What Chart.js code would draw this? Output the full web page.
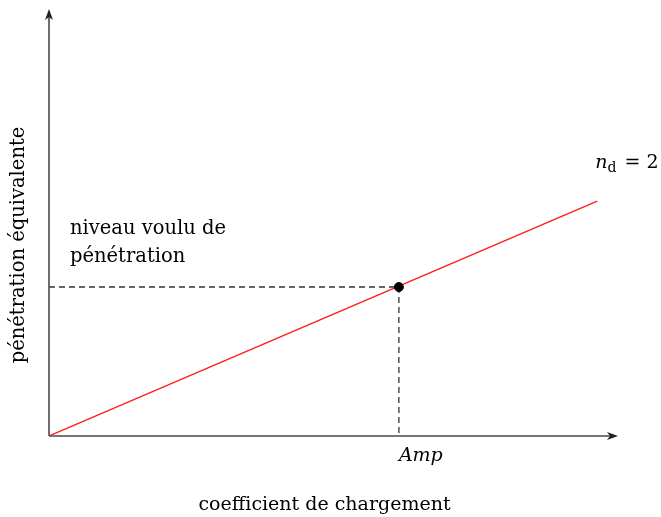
<!DOCTYPE html>
<html>
<head>
<meta charset="utf-8">
<script src="https://cdn.jsdelivr.net/npm/chart.js@4"></script>
<style>
  html, body { margin: 0; padding: 0; background: #fff; }
  #wrap { width: 661px; height: 517px; }
</style>
</head>
<body>
<div id="wrap"><canvas id="chart" width="661" height="517"></canvas></div>
<script>
"use strict";

// ===== Data =====
const lineX = [0, 9.95];          // n_d = 2 curve, start / end
const lineY = [0, 6.15];
const targetX = [6.35];           // operating point (Amp)
const targetY = [3.9];
const xTickLabels = ['Amp'];
const xTitle = 'coefficient de chargement';
const yTitle = 'pénétration équivalente';
const curveLabel = ['n', 'd', ' = 2'];
const levelLabel = ['niveau voulu de', 'pénétration'];

const SERIF = '"DejaVu Serif", serif';
const AXIS_COLOR = '#4a4a4a';

// axes with arrow heads, dashed guides and the text notes
const decorations = {
    id: 'decorations',
    beforeDatasetsDraw(chart) {
        const { ctx, scales: { x, y } } = chart;
        const x0 = x.getPixelForValue(0);
        const y0 = y.getPixelForValue(0);
        const px = x.getPixelForValue(targetX[0]);
        const py = y.getPixelForValue(targetY[0]);

        ctx.save();
        // dashed guides
        ctx.strokeStyle = '#333';
        ctx.lineWidth = 1.3;
        ctx.setLineDash([6, 4]);
        ctx.beginPath();
        ctx.moveTo(x0, py);
        ctx.lineTo(px, py);
        ctx.moveTo(px, py);
        ctx.lineTo(px, y0);
        ctx.stroke();
        ctx.setLineDash([]);

        // axes
        const xEnd = x.right + 18;
        const yEnd = y.top - 45;
        ctx.strokeStyle = AXIS_COLOR;
        ctx.lineWidth = 1.6;
        ctx.beginPath();
        ctx.moveTo(x0, y0);
        ctx.lineTo(xEnd - 6, y0);
        ctx.moveTo(x0, y0);
        ctx.lineTo(x0, yEnd + 6);
        ctx.stroke();
        ctx.fillStyle = '#222';
        ctx.beginPath();
        ctx.moveTo(xEnd, y0);
        ctx.lineTo(xEnd - 11, y0 - 4);
        ctx.lineTo(xEnd - 8, y0);
        ctx.lineTo(xEnd - 11, y0 + 4);
        ctx.closePath();
        ctx.fill();
        ctx.beginPath();
        ctx.moveTo(x0, yEnd);
        ctx.lineTo(x0 - 4, yEnd + 11);
        ctx.lineTo(x0, yEnd + 8);
        ctx.lineTo(x0 + 4, yEnd + 11);
        ctx.closePath();
        ctx.fill();

        // notes
        ctx.fillStyle = '#000';
        ctx.textBaseline = 'alphabetic';
        ctx.textAlign = 'left';
        ctx.font = '19.5px ' + SERIF;
        ctx.fillText(levelLabel[0], x0 + 21, py - 53);
        ctx.fillText(levelLabel[1], x0 + 21, py - 25);

        const ex = x.getPixelForValue(lineX[1]) - 2;
        const ey = y.getPixelForValue(lineY[1]) - 33;
        ctx.font = 'italic 19px ' + SERIF;
        ctx.fillText(curveLabel[0], ex, ey);
        let cx = ex + ctx.measureText(curveLabel[0]).width;
        ctx.font = '14px ' + SERIF;
        ctx.fillText(curveLabel[1], cx, ey + 4);
        cx += ctx.measureText(curveLabel[1]).width + 2;
        ctx.font = '19px ' + SERIF;
        ctx.fillText(curveLabel[2], cx, ey);
        ctx.restore();
    }
};

new Chart(document.getElementById('chart'), {
    type: 'scatter',
    data: {
        datasets: [
            {
                type: 'line',
                data: lineX.map((v, i) => ({ x: v, y: lineY[i] })),
                borderColor: '#ff1a1a',
                borderWidth: 1.3,
                pointRadius: 0,
                showLine: true,
                fill: false,
                order: 2
            },
            {
                data: targetX.map((v, i) => ({ x: v, y: targetY[i] })),
                backgroundColor: '#000',
                borderColor: '#000',
                pointRadius: 4.5,
                pointHoverRadius: 4.5,
                order: 1
            }
        ]
    },
    options: {
        responsive: false,
        devicePixelRatio: 1,
        animation: false,
        events: [],
        layout: { padding: { left: 0, right: 61, top: 54, bottom: 0 } },
        scales: {
            x: {
                type: 'linear', min: 0, max: 10,
                grid: { display: false, drawTicks: false },
                border: { display: false },
                afterBuildTicks: (s) => { s.ticks = targetX.map((v) => ({ value: v })); },
                afterFit: (s) => { s.height = 81; },
                ticks: {
                    align: 'start',
                    padding: 9,
                    color: '#000',
                    font: { family: SERIF, size: 19, style: 'italic' },
                    callback: (v, i) => xTickLabels[i]
                },
                title: {
                    display: true, text: xTitle, color: '#000',
                    font: { family: SERIF, size: 19 },
                    padding: { top: 0, bottom: 1 }
                }
            },
            y: {
                type: 'linear', min: 0, max: 10,
                grid: { display: false, drawTicks: false },
                border: { display: false },
                ticks: { display: false },
                afterFit: (s) => { s.width = 49; },
                title: {
                    display: true, text: yTitle, color: '#000',
                    font: { family: SERIF, size: 19.5 },
                    padding: { top: 7, bottom: 0 }
                }
            }
        },
        plugins: {
            legend: { display: false },
            tooltip: { enabled: false }
        }
    },
    plugins: [decorations]
});
</script>
</body>
</html>
